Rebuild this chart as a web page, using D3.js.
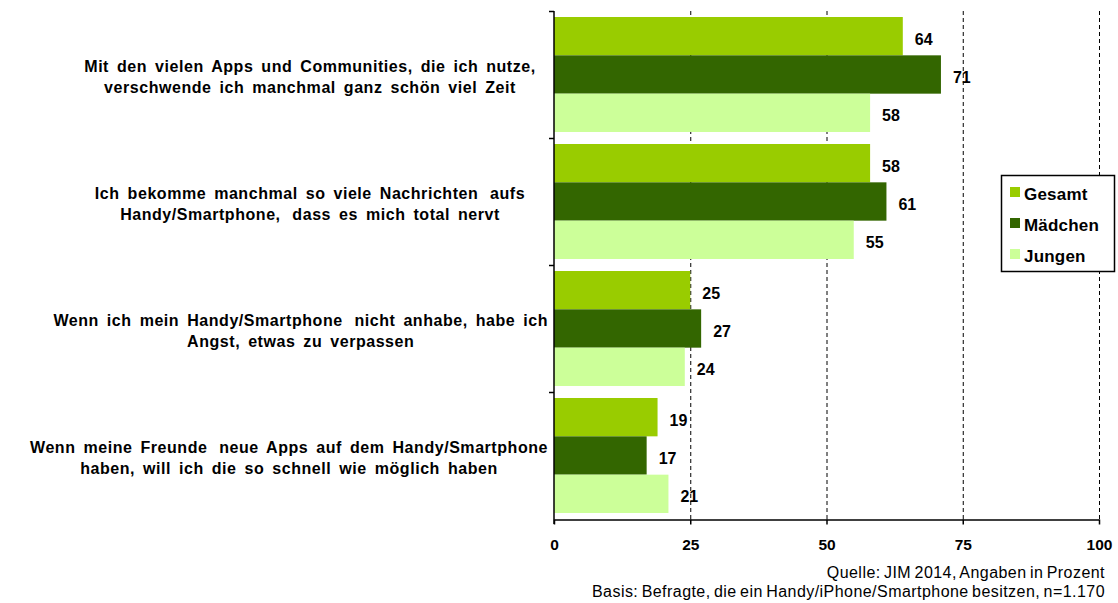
<!DOCTYPE html>
<html>
<head>
<meta charset="utf-8">
<script src="https://cdn.jsdelivr.net/npm/d3@7/dist/d3.min.js"></script>
<style>
  html, body { margin: 0; padding: 0; background: #fff; }
  svg { display: block; font-family: "Liberation Sans", Arial, sans-serif; }
  .cat { white-space: pre; }
</style>
</head>
<body>
<svg id="chart" width="1118" height="603"></svg>
<script>
// Statements (each split into its two printed lines)
const categories = [
  ["Mit den vielen Apps und Communities, die ich nutze,", "verschwende ich manchmal ganz schön viel Zeit"],
  ["Ich bekomme manchmal so viele Nachrichten \u2009aufs", "Handy/Smartphone, \u2009dass es mich total nervt"],
  ["Wenn ich mein Handy/Smartphone \u2009nicht anhabe, habe ich", "Angst, etwas zu verpassen"],
  ["Wenn meine Freunde \u2009neue Apps auf dem Handy/Smartphone", "haben, will ich die so schnell wie möglich haben"]
];
const seriesNames = ["Gesamt", "Mädchen", "Jungen"];
const gesamt = [64, 58, 25, 19];
const maedchen = [71, 61, 27, 17];
const jungen = [58, 55, 24, 21];
const tickValues = [0, 25, 50, 75, 100];
const colors = ["#99cc00", "#336600", "#ccff99"];
const sourceLines = [
  "Quelle: JIM 2014, Angaben in Prozent",
  "Basis: Befragte, die ein Handy/iPhone/Smartphone besitzen, n=1.170"
];

const values = [gesamt, maedchen, jungen];
const svg = d3.select("#chart");

const plotLeft = 554, plotRight = 1099, plotTop = 11, plotBottom = 519;
const x = d3.scaleLinear().domain([0, 100]).range([plotLeft, plotRight]);
const catIdx = categories.map((d, i) => i);
const y0 = d3.scaleBand().domain(catIdx).range([plotTop, plotBottom]);
const y1 = d3.scaleBand().domain(seriesNames).range([6, y0.bandwidth() - 6]);

// dashed gridlines
svg.append("g").selectAll("line")
  .data(tickValues.filter(v => v > 0))
  .join("line")
  .attr("x1", d => x(d) + 0.5).attr("x2", d => x(d) + 0.5)
  .attr("y1", plotTop).attr("y2", plotBottom)
  .attr("stroke", "#000").attr("stroke-width", 1)
  .attr("stroke-dasharray", "4,3");

// bars
const groups = svg.append("g").selectAll("g")
  .data(catIdx)
  .join("g")
  .attr("transform", i => `translate(0,${y0(i)})`);

groups.selectAll("rect")
  .data(i => seriesNames.map((s, k) => ({ s, k, v: values[k][i] })))
  .join("rect")
  .attr("x", x(0))
  .attr("y", d => y1(d.s))
  .attr("width", d => x(d.v) - x(0))
  .attr("height", y1.bandwidth())
  .attr("fill", d => colors[d.k]);

// value labels
groups.selectAll("text")
  .data(i => seriesNames.map((s, k) => ({ s, k, v: values[k][i] })))
  .join("text")
  .attr("x", d => x(d.v) + 12)
  .attr("y", d => y1(d.s) + y1.bandwidth() / 2 + 8.5)
  .attr("font-size", 16).attr("font-weight", "bold")
  .attr("fill", "#000")
  .text(d => d.v);

// x axis
const xAxis = d3.axisBottom(x).tickValues(tickValues).tickSize(5).tickSizeOuter(0);
const gx = svg.append("g").attr("transform", `translate(0,${plotBottom + 0.5})`).call(xAxis);
gx.select(".domain").attr("stroke", "#000").attr("stroke-width", 1.5);
gx.selectAll(".tick line").attr("stroke", "#000").attr("stroke-width", 1.5);
gx.selectAll(".tick text")
  .attr("y", 30.5).attr("dy", null)
  .attr("font-family", "Liberation Sans, Arial, sans-serif")
  .attr("font-size", 15.5).attr("font-weight", "bold").attr("fill", "#000");

// y axis: vertical line with ticks at the category boundaries
const gy = svg.append("g");
gy.append("line")
  .attr("x1", plotLeft).attr("x2", plotLeft)
  .attr("y1", plotTop).attr("y2", plotBottom + 5)
  .attr("stroke", "#000").attr("stroke-width", 1.5);
const boundaries = catIdx.map(i => y0(i));
gy.selectAll("line.tk")
  .data(boundaries)
  .join("line").attr("class", "tk")
  .attr("x1", plotLeft - 5).attr("x2", plotLeft)
  .attr("y1", d => d + 0.5).attr("y2", d => d + 0.5)
  .attr("stroke", "#000").attr("stroke-width", 1.5);

// category labels
const labelG = svg.append("g");
categories.forEach((lines, i) => {
  const t = labelG.append("text").attr("class", "cat")
    .attr("font-size", 16).attr("font-weight", "bold")
    .attr("letter-spacing", 0.55).attr("word-spacing", 3)
    .attr("text-anchor", "middle").attr("fill", "#000");
  lines.forEach((ln, j) => {
    t.append("tspan").attr("x", 0)
      .attr("y", y0(i) + y0.bandwidth() / 2 - 2.5 + j * 21)
      .text(ln);
  });
  const w = d3.max(t.selectAll("tspan").nodes(), n => n.getComputedTextLength());
  const cx = Math.min(310, 548 - w / 2);
  t.selectAll("tspan").attr("x", cx);
});

// legend
const lg = svg.append("g");
lg.append("rect")
  .attr("x", 1001.5).attr("y", 175.5).attr("width", 113).attr("height", 96)
  .attr("fill", "#fff").attr("stroke", "#000").attr("stroke-width", 1.5);
seriesNames.forEach((s, k) => {
  const base = 200 + k * 31;
  lg.append("rect").attr("x", 1010).attr("y", base - 13).attr("width", 10).attr("height", 10)
    .attr("fill", colors[k]);
  lg.append("text").attr("x", 1024).attr("y", base)
    .attr("font-size", 17).attr("font-weight", "bold").attr("letter-spacing", 0.2)
    .attr("fill", "#000")
    .text(s);
});

// source note
svg.append("g").selectAll("text")
  .data(sourceLines)
  .join("text")
  .attr("x", 1105)
  .attr("y", (d, i) => 577.5 + i * 19.5)
  .attr("text-anchor", "end")
  .attr("font-size", 16).attr("letter-spacing", 0.45).attr("word-spacing", -1.5)
  .attr("fill", "#000")
  .text(d => d);
</script>
</body>
</html>
